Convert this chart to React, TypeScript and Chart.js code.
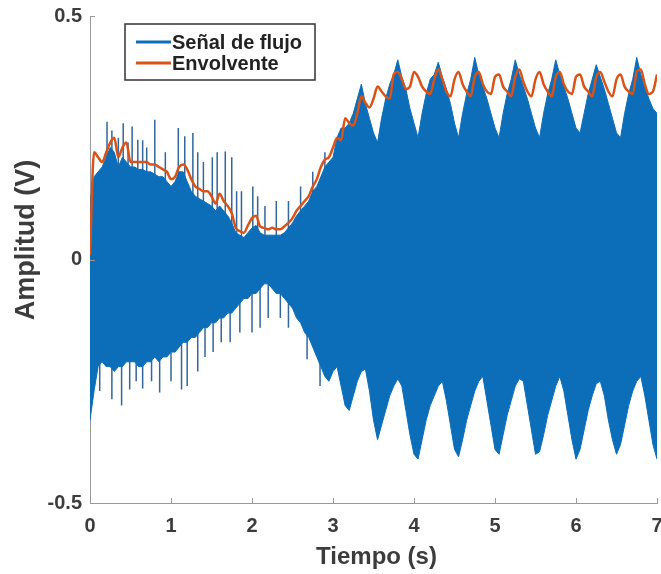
import React, { useEffect, useRef } from "react";
import { Chart, registerables } from "chart.js";

Chart.register(...registerables);

// Sampling step (seconds) of the envelope arrays below
const SAMPLE_STEP = 0.05;

// Upper edge of the blue flow signal (V), one value every 0.05 s from 0 to 7 s
const blueUpper = [
  0.12, 0.17, 0.18, 0.19, 0.21, 0.23, 0.22, 0.19, 0.21, 0.2, 0.19, 0.19, 0.185, 0.185, 0.18, 0.18, 0.175, 0.17, 0.17, 0.16,
  0.15, 0.16, 0.18, 0.18, 0.16, 0.14, 0.13, 0.125, 0.12, 0.115, 0.11, 0.1, 0.11, 0.1, 0.09, 0.075, 0.055, 0.05, 0.045, 0.055,
  0.065, 0.07, 0.055, 0.05, 0.05, 0.05, 0.05, 0.05, 0.055, 0.065, 0.075, 0.09, 0.1, 0.11, 0.12, 0.14, 0.15, 0.17, 0.19, 0.2,
  0.21, 0.25, 0.27, 0.27, 0.28, 0.3, 0.33, 0.36, 0.32, 0.29, 0.26, 0.24, 0.29, 0.33, 0.36, 0.38, 0.41, 0.375, 0.35, 0.31,
  0.28, 0.25, 0.3, 0.34, 0.37, 0.38, 0.405, 0.375, 0.35, 0.32, 0.28, 0.25, 0.3, 0.34, 0.37, 0.415, 0.38, 0.355, 0.33, 0.3,
  0.27, 0.25, 0.3, 0.34, 0.37, 0.41, 0.38, 0.355, 0.33, 0.3, 0.27, 0.25, 0.3, 0.34, 0.37, 0.41, 0.38, 0.355, 0.33, 0.3,
  0.27, 0.26, 0.3, 0.34, 0.37, 0.4, 0.375, 0.35, 0.32, 0.29, 0.26, 0.25, 0.3, 0.34, 0.37, 0.415, 0.38, 0.355, 0.33, 0.31,
  0.3,
];

// Lower edge of the blue flow signal (V)
const blueLower = [
  -0.33, -0.27, -0.22, -0.21, -0.22, -0.22, -0.23, -0.22, -0.22, -0.21, -0.21, -0.21, -0.22, -0.22, -0.21, -0.21, -0.2, -0.21, -0.2, -0.2,
  -0.19, -0.19, -0.18, -0.17, -0.17, -0.16, -0.16, -0.15, -0.14, -0.14, -0.13, -0.13, -0.12, -0.12, -0.11, -0.11, -0.1, -0.09, -0.08, -0.08,
  -0.07, -0.07, -0.06, -0.05, -0.05, -0.06, -0.07, -0.07, -0.08, -0.09, -0.1, -0.12, -0.13, -0.15, -0.16, -0.18, -0.2, -0.22, -0.24, -0.25,
  -0.23, -0.22, -0.26, -0.3, -0.31, -0.28, -0.25, -0.23, -0.225, -0.27, -0.33, -0.37, -0.34, -0.31, -0.28, -0.26, -0.245, -0.26, -0.31, -0.36,
  -0.4, -0.41, -0.37, -0.33, -0.3, -0.28, -0.26, -0.25, -0.29, -0.34, -0.39, -0.405, -0.37, -0.33, -0.3, -0.27, -0.25, -0.24, -0.29, -0.34,
  -0.39, -0.4, -0.36, -0.32, -0.29, -0.26, -0.245, -0.25, -0.3, -0.35, -0.4, -0.395, -0.36, -0.32, -0.29, -0.26, -0.24, -0.27, -0.32, -0.37,
  -0.41, -0.39, -0.35, -0.31, -0.28, -0.255, -0.25, -0.28, -0.33, -0.37, -0.4, -0.38, -0.34, -0.3, -0.27, -0.25, -0.24, -0.28, -0.33, -0.38,
  -0.41,
];

// Orange envelope (V)
const envelope = [
  0.01, 0.22, 0.21, 0.2, 0.22, 0.24, 0.25, 0.21, 0.23, 0.24, 0.2, 0.2, 0.2, 0.2, 0.2, 0.195, 0.195, 0.19, 0.185, 0.18,
  0.165, 0.17, 0.19, 0.195, 0.185, 0.165, 0.15, 0.145, 0.14, 0.14, 0.13, 0.115, 0.135, 0.12, 0.11, 0.095, 0.065, 0.058, 0.055, 0.07,
  0.085, 0.09, 0.068, 0.065, 0.062, 0.065, 0.062, 0.062, 0.068, 0.075, 0.085, 0.1, 0.11, 0.12, 0.13, 0.15, 0.165, 0.19, 0.205, 0.21,
  0.23, 0.25, 0.245, 0.29, 0.28, 0.275, 0.3, 0.335, 0.322, 0.312, 0.33, 0.355, 0.345, 0.335, 0.33, 0.38, 0.385, 0.37, 0.35, 0.355,
  0.385, 0.375, 0.355, 0.345, 0.34, 0.37, 0.39, 0.37, 0.345, 0.335, 0.37, 0.385, 0.36, 0.345, 0.335, 0.375, 0.385, 0.36, 0.345, 0.34,
  0.375, 0.38, 0.355, 0.345, 0.335, 0.375, 0.39, 0.365, 0.345, 0.335, 0.37, 0.385, 0.36, 0.345, 0.335, 0.375, 0.385, 0.36, 0.345, 0.34,
  0.375, 0.38, 0.355, 0.345, 0.335, 0.375, 0.385, 0.365, 0.345, 0.335, 0.37, 0.38, 0.355, 0.345, 0.34, 0.385, 0.39, 0.36, 0.34, 0.345,
  0.38,
];

// Isolated spikes of the flow signal
const upSpikeTimes = [0.21, 0.27, 0.35, 0.41, 0.47, 0.52, 0.59, 0.65, 0.7, 0.8, 0.93, 1.09, 1.17, 1.27, 1.33, 1.4, 1.51, 1.57, 1.67, 1.75, 1.81, 1.87, 2.01, 2.07, 2.16, 2.3, 2.45, 2.6, 2.75, 2.9];
const upSpikeValues = [0.283, 0.265, 0.25, 0.28, 0.24, 0.273, 0.246, 0.245, 0.23, 0.287, 0.22, 0.27, 0.253, 0.26, 0.22, 0.2, 0.21, 0.22, 0.222, 0.21, 0.14, 0.14, 0.15, 0.13, 0.11, 0.12, 0.12, 0.15, 0.18, 0.22];
const downSpikeTimes = [0.12, 0.27, 0.39, 0.49, 0.57, 0.65, 0.76, 0.86, 1.0, 1.13, 1.2, 1.33, 1.42, 1.52, 1.62, 1.73, 1.85, 2.0, 2.1, 2.2, 2.35, 2.45, 2.68, 2.84];
const downSpikeValues = [-0.27, -0.287, -0.3, -0.267, -0.25, -0.265, -0.25, -0.273, -0.25, -0.267, -0.26, -0.23, -0.2, -0.19, -0.17, -0.17, -0.15, -0.15, -0.14, -0.12, -0.12, -0.14, -0.205, -0.26];

// Axis ticks
const xTickValues = [0, 1, 2, 3, 4, 5, 6, 7];
const xTickLabels = ["0", "1", "2", "3", "4", "5", "6", "7"];
const yTickValues = [-0.5, 0, 0.5];
const yTickLabels = ["-0.5", "0", "0.5"];

const legendLabels = ["Señal de flujo", "Envolvente"];
const xTitle = "Tiempo (s)";
const yTitle = "Amplitud (V)";

const BLUE = "#0c6eb8";
const SPIKE = "#33679a";
const ORANGE = "#d95319";
const AXIS = "#9a9a9a";
const TEXT = "#3c3c3c";
const FONT = "'Liberation Sans', Arial, Helvetica, sans-serif";

const toXY = (arr: number[]) => arr.map((v, i) => ({ x: +(i * SAMPLE_STEP).toFixed(2), y: v }));

const spikePoints = () => {
  const pts: { x: number; y: number | null }[] = [];
  upSpikeTimes.forEach((t, i) => {
    pts.push({ x: t, y: 0 }, { x: t, y: upSpikeValues[i] }, { x: t, y: null });
  });
  downSpikeTimes.forEach((t, i) => {
    pts.push({ x: t, y: 0 }, { x: t, y: downSpikeValues[i] }, { x: t, y: null });
  });
  return pts;
};

const decorPlugin = {
  id: "decor",
  afterDraw(chart: any) {
    const { ctx, chartArea, scales } = chart;
    ctx.save();
    // inward tick marks
    ctx.strokeStyle = AXIS;
    ctx.lineWidth = 1;
    ctx.beginPath();
    xTickValues.forEach((v) => {
      const px = Math.round(scales.x.getPixelForValue(v)) + 0.5;
      ctx.moveTo(px, chartArea.bottom);
      ctx.lineTo(px, chartArea.bottom - 5);
    });
    yTickValues.forEach((v) => {
      const py = Math.round(scales.y.getPixelForValue(v)) + 0.5;
      ctx.moveTo(chartArea.left, py);
      ctx.lineTo(chartArea.left + 5, py);
    });
    ctx.stroke();

    // axis titles
    ctx.fillStyle = TEXT;
    ctx.font = `bold 24px ${FONT}`;
    ctx.textAlign = "center";
    ctx.textBaseline = "middle";
    ctx.fillText(xTitle, (chartArea.left + chartArea.right) / 2 + 3, 557);
    ctx.save();
    ctx.translate(27, 240);
    ctx.rotate(-Math.PI / 2);
    ctx.font = `bold 27px ${FONT}`;
    ctx.fillText(yTitle, 0, 0);
    ctx.restore();

    // legend
    const bx = 125, by = 24, bw = 190, bh = 56;
    ctx.fillStyle = "#ffffff";
    ctx.fillRect(bx, by, bw, bh);
    ctx.strokeStyle = "#333333";
    ctx.lineWidth = 1.5;
    ctx.strokeRect(bx, by, bw, bh);
    const rows = [
      { y: by + 18, color: BLUE, label: legendLabels[0] },
      { y: by + 39, color: ORANGE, label: legendLabels[1] },
    ];
    rows.forEach((r) => {
      ctx.strokeStyle = r.color;
      ctx.lineWidth = 3;
      ctx.beginPath();
      ctx.moveTo(bx + 11, r.y);
      ctx.lineTo(bx + 46, r.y);
      ctx.stroke();
      ctx.fillStyle = "#222222";
      ctx.font = `bold 20px ${FONT}`;
      ctx.textAlign = "left";
      ctx.textBaseline = "middle";
      ctx.fillText(r.label, bx + 47, r.y + 1);
    });
    ctx.restore();
  },
};

export default function App() {
  const canvasRef = useRef<HTMLCanvasElement | null>(null);

  useEffect(() => {
    document.body.style.margin = "0";
    const canvas = canvasRef.current;
    if (!canvas) return;
    const chart = new Chart(canvas, {
      type: "line",
      data: {
        datasets: [
          {
            label: legendLabels[1],
            data: toXY(envelope),
            borderColor: ORANGE,
            borderWidth: 2.5,
            pointRadius: 0,
            fill: false,
            cubicInterpolationMode: "monotone",
            order: 0,
          },
          {
            label: legendLabels[0],
            data: toXY(blueUpper),
            borderColor: BLUE,
            backgroundColor: BLUE,
            borderWidth: 1,
            pointRadius: 0,
            fill: "+1",
            order: 2,
          },
          {
            label: "lower",
            data: toXY(blueLower),
            borderColor: BLUE,
            borderWidth: 1,
            pointRadius: 0,
            fill: false,
            order: 3,
          },
          {
            label: "spikes",
            data: spikePoints(),
            borderColor: SPIKE,
            borderWidth: 1.5,
            pointRadius: 0,
            fill: false,
            spanGaps: false,
            order: 5,
          },
        ] as any,
      },
      options: {
        animation: false,
        responsive: false,
        devicePixelRatio: 1,
        layout: { padding: { left: 0, right: 4, top: 16, bottom: 0 } },
        plugins: {
          legend: { display: false },
          tooltip: { enabled: false },
        },
        scales: {
          x: {
            type: "linear",
            min: 0,
            max: 7,
            grid: { display: false, drawTicks: false },
            border: { display: true, color: AXIS, width: 1 },
            afterBuildTicks: (scale: any) => {
              scale.ticks = xTickValues.map((v) => ({ value: v }));
            },
            afterFit: (scale: any) => {
              scale.height = 71;
              scale.paddingLeft = 0;
              scale.paddingRight = 0;
            },
            ticks: {
              color: TEXT,
              font: { family: FONT, size: 20, weight: "bold" },
              padding: 11,
              maxRotation: 0,
              autoSkip: false,
              callback: (_v: any, i: number) => xTickLabels[i],
            },
          },
          y: {
            type: "linear",
            min: -0.5,
            max: 0.5,
            grid: { display: false, drawTicks: false },
            border: { display: true, color: AXIS, width: 1 },
            afterBuildTicks: (scale: any) => {
              scale.ticks = yTickValues.map((v) => ({ value: v }));
            },
            afterFit: (scale: any) => {
              scale.width = 90;
              scale.paddingTop = 0;
              scale.paddingBottom = 0;
            },
            ticks: {
              color: TEXT,
              font: { family: FONT, size: 20, weight: "bold" },
              padding: 8,
              autoSkip: false,
              callback: (_v: any, i: number) => yTickLabels[i],
            },
          },
        },
      } as any,
      plugins: [decorPlugin],
    });
    return () => chart.destroy();
  }, []);

  return (
    <div style={{ position: "fixed", left: 0, top: 0, width: 661, height: 574, background: "#fff" }}>
      <canvas ref={canvasRef} width={661} height={574} style={{ width: 661, height: 574 }} />
    </div>
  );
}
